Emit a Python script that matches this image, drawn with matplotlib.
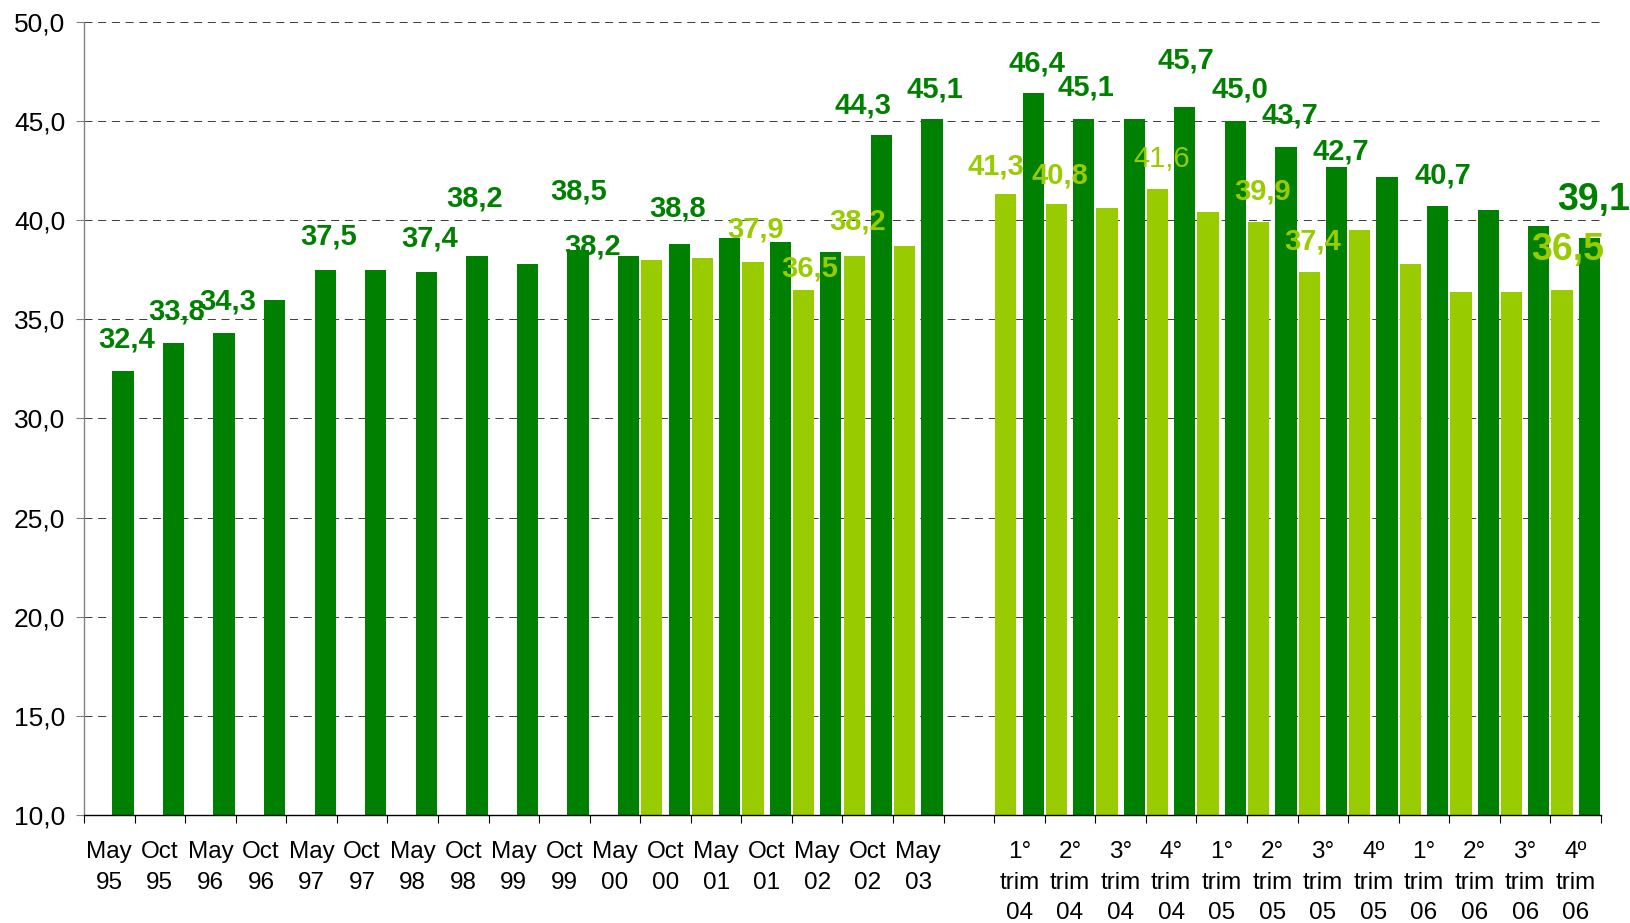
import numpy as np
import matplotlib
matplotlib.use('Agg')
import matplotlib.pyplot as plt

plt.rcParams['font.family'] = ['Liberation Sans', 'DejaVu Sans']

# categories (gap slot between the two periods)
categories = ['May\n95', 'Oct\n95', 'May\n96', 'Oct\n96', 'May\n97', 'Oct\n97',
              'May\n98', 'Oct\n98', 'May\n99', 'Oct\n99', 'May\n00', 'Oct\n00',
              'May\n01', 'Oct\n01', 'May\n02', 'Oct\n02', 'May\n03', '',
              '1°\ntrim\n04', '2°\ntrim\n04', '3°\ntrim\n04', '4°\ntrim\n04',
              '1°\ntrim\n05', '2°\ntrim\n05', '3°\ntrim\n05', '4º\ntrim\n05',
              '1°\ntrim\n06', '2°\ntrim\n06', '3°\ntrim\n06', '4º\ntrim\n06']

nan = np.nan
dark_values = [32.4, 33.8, 34.3, 36.0, 37.5, 37.5, 37.4, 38.2, 37.8, 38.5,
               38.2, 38.8, 39.1, 38.9, 38.4, 44.3, 45.1, nan,
               46.4, 45.1, 45.1, 45.7, 45.0, 43.7, 42.7, 42.2,
               40.7, 40.5, 39.7, 39.1]
light_values = [nan, nan, nan, nan, nan, nan, nan, nan, nan, nan,
                nan, 38.0, 38.1, 37.9, 36.5, 38.2, 38.7, nan,
                41.3, 40.8, 40.6, 41.6, 40.4, 39.9, 37.4, 39.5,
                37.8, 36.4, 36.4, 36.5]

# which bars carry a value label, with hand-placed offsets (dx in categories, dy in %)
dark_labels = {0: (0.07, 1.56), 1: (0.07, 1.62), 2: (0.08, 1.58), 4: (0.075, 1.69),
               6: (0.07, 1.69), 7: (-0.04, 2.91), 9: (0.02, 2.96), 10: (-0.705, 0.49),
               11: (-0.04, 1.81), 15: (-0.37, 1.51), 16: (0.06, 1.52), 18: (0.075, 1.53),
               19: (0.044, 1.62), 21: (0.02, 2.38), 22: (0.09, 1.62), 23: (0.078, 1.56),
               24: (0.087, 0.79), 26: (0.10, 1.58), 29: (0.09, 1.92)}
light_labels = {13: (0.058, 1.65), 14: (0.126, 1.09), 15: (0.076, 1.75), 18: (-0.196, 1.39),
                19: (0.07, 1.48), 21: (0.087, 1.49), 23: (0.084, 1.53), 24: (0.073, 1.55),
                29: (0.116, 2.0)}

DARK = '#008000'
LIGHT = '#99CC00'

fig = plt.figure(figsize=(16.31, 9.23), dpi=100)
ax = fig.add_axes([84 / 1631, 1 - 815 / 923, (1601 - 84) / 1631, (815 - 22) / 923])

x = np.arange(len(categories))
off = 0.27
w = 0.42
ax.bar(x - off, light_values, width=w, color=LIGHT, zorder=2)
ax.bar(x + off, dark_values, width=w, color=DARK, zorder=2)


def fmt(v):
    return ('%.1f' % v).replace('.', ',')


for i, (dx, dy) in dark_labels.items():
    big = i == len(categories) - 1
    ax.text(x[i] + off + dx, dark_values[i] + dy, fmt(dark_values[i]),
            ha='center', va='center', color=DARK, fontweight='bold',
            fontsize=27 if big else 21, zorder=3)
for i, (dx, dy) in light_labels.items():
    big = i == len(categories) - 1
    ax.text(x[i] - off + dx, light_values[i] + dy, fmt(light_values[i]),
            ha='center', va='center', color=LIGHT,
            fontweight='normal' if i == 21 else 'bold',
            fontsize=27 if big else 21, zorder=3)

ax.set_xlim(-0.5, len(categories) - 0.5)
ax.set_ylim(10, 50)
yt = np.arange(10, 51, 5)
ax.set_yticks(yt)
ax.set_yticklabels([fmt(v) for v in yt], fontsize=19)
ax.set_xticks(x)
ax.set_xticklabels(categories, fontsize=17.5, linespacing=1.5)
ax.set_xticks(np.arange(-0.5, len(categories)), minor=True)
ax.tick_params(axis='x', which='major', length=0, pad=19)
ax.tick_params(axis='x', which='minor', length=5.5, width=0.8, color='black', direction='out')
ax.tick_params(axis='y', length=5.5, width=0.8, color='#808080', pad=8)

ax.yaxis.grid(True, color='#404040', linestyle=(0, (8, 5.7)), linewidth=0.72)
ax.set_axisbelow(True)

for s in ['top', 'right']:
    ax.spines[s].set_visible(False)
ax.spines['left'].set_color('#808080')
ax.spines['left'].set_linewidth(1.0)
ax.spines['bottom'].set_color('black')
ax.spines['bottom'].set_linewidth(1.0)

fig.savefig('out.png', dpi=100)
